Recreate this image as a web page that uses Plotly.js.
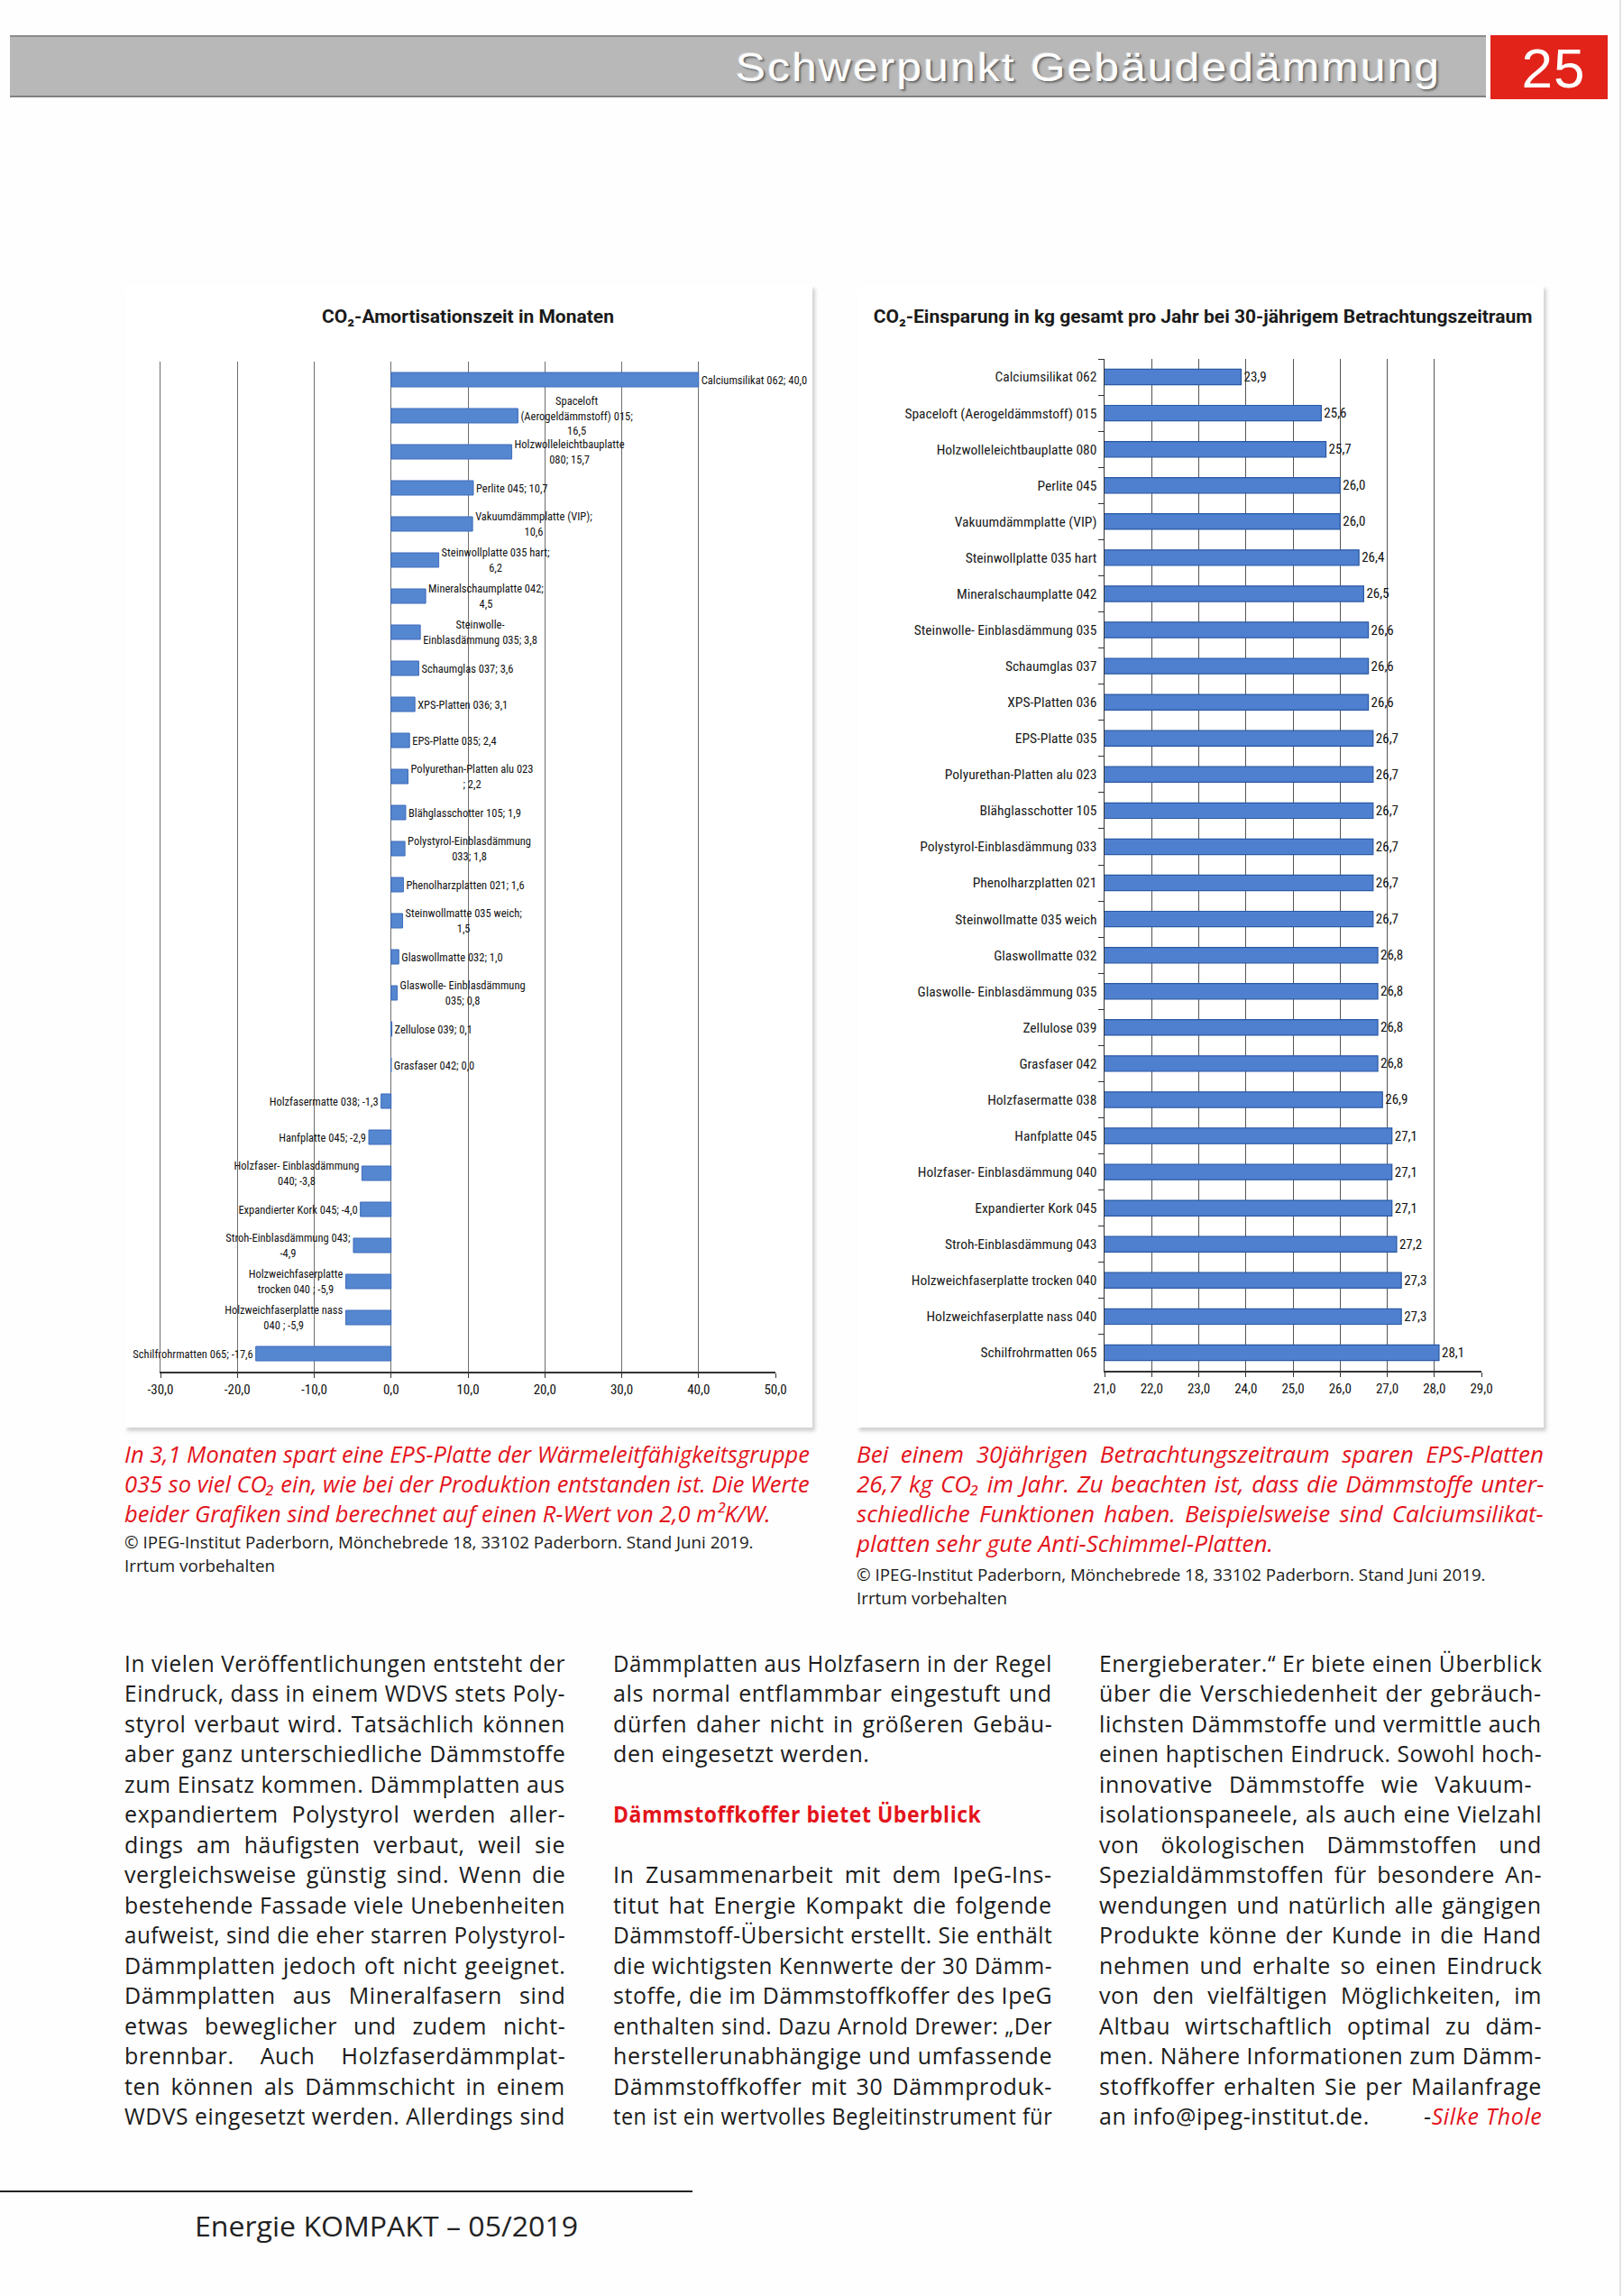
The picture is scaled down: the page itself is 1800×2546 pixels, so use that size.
<!DOCTYPE html>
<html><head><meta charset="utf-8">
<script src="https://cdn.plot.ly/plotly-3.0.1.min.js"></script>
<style>
html,body{margin:0;padding:0;background:#fff;}
#page{position:relative;width:1800px;height:2546px;overflow:hidden;background:#fefefe;}
.abs{position:absolute;}
.band{left:11px;top:39px;width:1637px;height:65px;background:#b8b8b8;border-top:2px solid #8c8c8c;border-bottom:2px solid #808080;}
.pnumbox{left:1653px;top:39px;width:130px;height:71px;background:#e2231a;}
.tl{position:absolute;white-space:nowrap;transform-origin:0 0;line-height:1;}
.panel{background:#fff;box-shadow:3px 4px 4px rgba(0,0,0,0.18);}
.edge{right:2px;top:0;width:2px;height:2546px;background:#e4e4e4;}
.fline{left:0;top:2429px;width:768px;height:2px;background:#222;}
</style></head>
<body>
<div id="page">
  <div class="abs band"></div>
  <div class="abs pnumbox"></div>
  <div class="abs edge"></div>
  <div class="abs panel" style="left:138px;top:316px;width:763px;height:1267px;"></div>
  <div class="abs panel" style="left:950px;top:316px;width:762px;height:1267px;"></div>
  <div class="abs" id="chart1" style="left:138px;top:316px;width:763px;height:1267px;"></div>
  <div class="abs" id="chart2" style="left:950px;top:316px;width:762px;height:1267px;"></div>
  <div class="abs fline"></div>
</div>
<script>
// ---------------- DATA ----------------
const materials = [
  "Calciumsilikat 062","Spaceloft (Aerogeldämmstoff) 015","Holzwolleleichtbauplatte 080","Perlite 045",
  "Vakuumdämmplatte (VIP)","Steinwollplatte 035 hart","Mineralschaumplatte 042","Steinwolle- Einblasdämmung 035",
  "Schaumglas 037","XPS-Platten 036","EPS-Platte 035","Polyurethan-Platten alu 023","Blähglasschotter 105",
  "Polystyrol-Einblasdämmung 033","Phenolharzplatten 021","Steinwollmatte 035 weich","Glaswollmatte 032",
  "Glaswolle- Einblasdämmung 035","Zellulose 039","Grasfaser 042","Holzfasermatte 038","Hanfplatte 045",
  "Holzfaser- Einblasdämmung 040","Expandierter Kork 045","Stroh-Einblasdämmung 043",
  "Holzweichfaserplatte trocken 040","Holzweichfaserplatte nass 040","Schilfrohrmatten 065"
];
// CO2-Amortisationszeit in Monaten
const amortValues = [40.0,16.5,15.7,10.7,10.6,6.2,4.5,3.8,3.6,3.1,2.4,2.2,1.9,1.8,1.6,1.5,1.0,0.8,0.1,0.0,-1.3,-2.9,-3.8,-4.0,-4.9,-5.9,-5.9,-17.6];
// wrapped data-label texts, {v} = value
const amortLabelTemplates = [
  "Calciumsilikat 062; {v}","Spaceloft<br>(Aerogeldämmstoff) 015;<br>{v}","Holzwolleleichtbauplatte<br>080; {v}",
  "Perlite 045; {v}","Vakuumdämmplatte (VIP);<br>{v}","Steinwollplatte 035 hart;<br>{v}","Mineralschaumplatte 042;<br>{v}",
  "Steinwolle-<br>Einblasdämmung 035; {v}","Schaumglas 037; {v}","XPS-Platten 036; {v}","EPS-Platte 035; {v}",
  "Polyurethan-Platten alu 023<br>; {v}","Blähglasschotter 105; {v}","Polystyrol-Einblasdämmung<br>033; {v}",
  "Phenolharzplatten 021; {v}","Steinwollmatte 035 weich;<br>{v}","Glaswollmatte 032; {v}",
  "Glaswolle- Einblasdämmung<br>035; {v}","Zellulose 039; {v}","Grasfaser 042; {v}","Holzfasermatte 038; {v}",
  "Hanfplatte 045; {v}","Holzfaser- Einblasdämmung<br>040; {v}","Expandierter Kork 045; {v}",
  "Stroh-Einblasdämmung 043;<br>{v}","Holzweichfaserplatte<br>trocken 040 ; {v}","Holzweichfaserplatte nass<br>040 ; {v}",
  "Schilfrohrmatten 065; {v}"
];
// CO2-Einsparung in kg pro Jahr
const savingValues = [23.9,25.6,25.7,26.0,26.0,26.4,26.5,26.6,26.6,26.6,26.7,26.7,26.7,26.7,26.7,26.7,26.8,26.8,26.8,26.8,26.9,27.1,27.1,27.1,27.2,27.3,27.3,28.1];
const amortTicks = [-30,-20,-10,0,10,20,30,40,50];
const savingTicks = [21,22,23,24,25,26,27,28,29];

const title1 = "CO₂-Amortisationszeit in Monaten";
const title2 = "CO₂-Einsparung in kg gesamt pro Jahr bei 30-jährigem Betrachtungszeitraum";

// ---------------- CHARTS ----------------
const NARROW = '"Liberation Sans Narrow", "Roboto Condensed", "DejaVu Sans Condensed", Roboto, sans-serif';
const fmt = v => v.toFixed(1).replace('.', ',');
const tickText = arr => arr.map(fmt);

const titleFont = {family:'Roboto, sans-serif', size:21, color:'#1a1a1a', weight:'bold'};

Plotly.newPlot('chart1', [{
  type:'bar', orientation:'h', x:amortValues, y:materials,
  text: amortValues.map((v,i)=>amortLabelTemplates[i].replace('{v}', fmt(v))),
  textposition:'outside', textangle:0, constraintext:'none', cliponaxis:false,
  textfont:{family:NARROW, size:12.5, color:'#111'},
  marker:{color:'#5586d0', line:{color:'#3e6dbb', width:1}},
  hoverinfo:'skip'
}], {
  width:763, height:1267, margin:{l:40, r:41, t:85, b:62},
  paper_bgcolor:'rgba(0,0,0,0)', plot_bgcolor:'#fff', showlegend:false, bargap:0.6,
  separators:',.',
  title:{text:title1, font:titleFont, x:0.5, xref:'paper', y:1-35/1267, yref:'container', yanchor:'middle'},
  xaxis:{range:[-30,50], tickvals:amortTicks, ticktext:tickText(amortTicks), showgrid:true, gridcolor:'#6e6e6e', gridwidth:1,
         zeroline:false, showline:true, linecolor:'#333', linewidth:2, ticks:'outside', ticklen:5, tickcolor:'#333',
         tickfont:{family:NARROW, size:15, color:'#111'}, fixedrange:true},
  yaxis:{type:'category', autorange:'reversed', showticklabels:false, showgrid:false, zeroline:false,
         showline:true, linecolor:'#6e6e6e', linewidth:1, ticks:'', fixedrange:true}
}, {staticPlot:true});

Plotly.newPlot('chart2', [{
  type:'bar', orientation:'h', x:savingValues, y:materials,
  text: savingValues.map(fmt), textposition:'outside', textangle:0, constraintext:'none',
  textfont:{family:NARROW, size:15, color:'#111'},
  marker:{color:'#4f80d0', line:{color:'#2a58a3', width:1.2}},
  hoverinfo:'skip'
}], {
  width:762, height:1267, margin:{l:275, r:69, t:82, b:63},
  paper_bgcolor:'rgba(0,0,0,0)', plot_bgcolor:'#fff', showlegend:false, bargap:0.57,
  separators:',.',
  title:{text:title2, font:titleFont, x:0.504, xref:'container', y:1-35/1267, yref:'container', yanchor:'middle'},
  xaxis:{range:[21,29], tickvals:savingTicks, ticktext:tickText(savingTicks), showgrid:true, gridcolor:'#555', gridwidth:1,
         zeroline:false, showline:true, linecolor:'#333', linewidth:2, ticks:'outside', ticklen:5, tickcolor:'#333',
         tickfont:{family:NARROW, size:15, color:'#111'}, fixedrange:true},
  yaxis:{type:'category', autorange:'reversed', showgrid:false, zeroline:false, showline:true, linecolor:'#333', linewidth:1.5,
         ticks:'outside', tickson:'boundaries', ticklen:6, tickcolor:'#333', ticklabelstandoff:4,
         tickfont:{family:NARROW, size:15.5, color:'#1a1a1a'}, fixedrange:true}
}, {staticPlot:true});

// ---------------- PAGE TEXT ----------------
const page = document.getElementById('page');
function addLine(html, o){
  const d = document.createElement('div');
  d.className = 'tl';
  d.style.left = o.x + 'px';
  d.style.top = (o.cy - o.k*o.size) + 'px';
  d.style.fontFamily = o.family; d.style.fontSize = o.size + 'px';
  d.style.fontStyle = o.italic ? 'italic' : 'normal';
  d.style.fontWeight = o.weight || 'normal';
  d.style.color = o.color;
  if (o.ls) d.style.letterSpacing = o.ls + 'px';
  if (o.shadow) d.style.textShadow = o.shadow;
  d.innerHTML = html;
  page.appendChild(d);
  return d;
}
function fitLine(d, o, mode, w){
  const nw = d.offsetWidth;
  let sc = o.condense || 1;
  if (mode === 'j') {
    const target = o.width / sc;
    if (nw > target) sc = o.width / nw;
    else {
      const n = (d.textContent.match(/ /g) || []).length;
      if (n) d.style.wordSpacing = ((target - nw) / n) + 'px';
    }
  } else if (mode === 'w') {
    sc = w / nw;
  } else if (nw * sc > o.width) sc = o.width / nw;
  d.style.transform = 'scaleX(' + sc + ')';
  return sc;
}
// lines: [text, mode('j' justify | 'l' left | 'w' exact width), width, style]
function block(lines, o){
  const els = lines.map((ln, i) => {
    if (!ln) return null;
    const oo = Object.assign({}, o, ln[3] || {});
    oo.cy = o.y0 + i * o.dy;
    return [addLine(ln[0], oo), oo, ln];
  });
  if (o.autoCondense) {           // take condense from the line with a known width
    const ref = els.find(e => e && e[2][1] === 'w');
    if (ref) o.condense = ref[2][2] / ref[0].offsetWidth;
  }
  els.forEach(e => { if (e) { e[1].condense = o.condense; fitLine(e[0], e[1], e[2][1], e[2][2]); } });
}
const BODY = '"Open Sans", sans-serif';
const RED = '#e3141b';

// header
(function(){
  const o = {x:0, cy:75, k:0.49, size:44, family:'"Liberation Sans", Arial, sans-serif', color:'#fff', ls:2,
             shadow:'1px 1px 0 #6a6a6a, 2px 2px 2px #777, -1px -1px 0 #d8d8d8'};
  const d = addLine('Schwerpunkt Gebäudedämmung', o);
  const sc = 782 / d.offsetWidth; d.style.left = (1598 - 782) + 'px'; d.style.transform = 'scaleX(' + sc + ')';
  const o2 = {x:0, cy:75, k:0.49, size:62, family:'"Liberation Sans", Arial, sans-serif', color:'#fff', ls:1};
  const d2 = addLine('25', o2); d2.style.left = (1723 - d2.offsetWidth/2) + 'px';
})();

// captions
const capLeft = [
  ["In 3,1 Monaten spart eine EPS-Platte der Wärmeleitfähigkeitsgruppe", 'j'],
  ["035 so viel CO₂ ein, wie bei der Produktion entstanden ist. Die Werte", 'j'],
  ["beider Grafiken sind berechnet auf einen R-Wert von 2,0 m²K/W.", 'w', 717]
];
const capRight = [
  ["Bei einem 30jährigen Betrachtungszeitraum sparen EPS-Platten", 'j'],
  ["26,7 kg CO₂ im Jahr. Zu beachten ist, dass die Dämmstoffe unter-", 'j'],
  ["schiedliche Funktionen haben. Beispielsweise sind Calciumsilikat-", 'j'],
  ["platten sehr gute Anti-Schimmel-Platten.", 'w', 462]
];
const capStyle = {family:BODY, size:25, italic:true, color:RED, k:0.62, autoCondense:true, dy:33.3};
block(capLeft, Object.assign({x:138, width:760, y0:1615}, capStyle));
block(capRight, Object.assign({x:950, width:762, y0:1615}, capStyle));
const srcStyle = {family:BODY, size:18, color:'#1a1a1a', k:0.62, dy:26};
const srcLines = [["© IPEG-Institut Paderborn, Mönchebrede 18, 33102 Paderborn. Stand Juni 2019.", 'w', 698],
                  ["Irrtum vorbehalten", 'w', 167]];
block(srcLines, Object.assign({x:138, width:760, y0:1712}, srcStyle));
block(srcLines, Object.assign({x:950, width:762, y0:1748}, srcStyle));

// body text
const col1 = [
  ["In vielen Veröffentlichungen entsteht der",'j'],
  ["Eindruck, dass in einem WDVS stets Poly-",'j'],
  ["styrol verbaut wird. Tatsächlich können",'j'],
  ["aber ganz unterschiedliche Dämmstoffe",'j'],
  ["zum Einsatz kommen. Dämmplatten aus",'j'],
  ["expandiertem Polystyrol werden aller-",'j'],
  ["dings am häufigsten verbaut, weil sie",'j'],
  ["vergleichsweise günstig sind. Wenn die",'j'],
  ["bestehende Fassade viele Unebenheiten",'j'],
  ["aufweist, sind die eher starren Polystyrol-",'j'],
  ["Dämmplatten jedoch oft nicht geeignet.",'j'],
  ["Dämmplatten aus Mineralfasern sind",'j'],
  ["etwas beweglicher und zudem nicht-",'j'],
  ["brennbar. Auch Holzfaserdämmplat-",'j'],
  ["ten können als Dämmschicht in einem",'j'],
  ["WDVS eingesetzt werden. Allerdings sind",'j']
];
const col2 = [
  ["Dämmplatten aus Holzfasern in der Regel",'j'],
  ["als normal entflammbar eingestuft und",'j'],
  ["dürfen daher nicht in größeren Gebäu-",'j'],
  ["den eingesetzt werden.",'l'],
  null,
  ["Dämmstoffkoffer bietet Überblick",'w',408,{weight:'bold', color:RED}],
  null,
  ["In Zusammenarbeit mit dem IpeG-Ins-",'j'],
  ["titut hat Energie Kompakt die folgende",'j'],
  ["Dämmstoff-Übersicht erstellt. Sie enthält",'j'],
  ["die wichtigsten Kennwerte der 30 Dämm-",'j'],
  ["stoffe, die im Dämmstoffkoffer des IpeG",'j'],
  ["enthalten sind. Dazu Arnold Drewer: „Der",'j'],
  ["herstellerunabhängige und umfassende",'j'],
  ["Dämmstoffkoffer mit 30 Dämmproduk-",'j'],
  ["ten ist ein wertvolles Begleitinstrument für",'j']
];
const col3 = [
  ["Energieberater.“ Er biete einen Überblick",'j'],
  ["über die Verschiedenheit der gebräuch-",'j'],
  ["lichsten Dämmstoffe und vermittle auch",'j'],
  ["einen haptischen Eindruck. Sowohl hoch-",'j'],
  ["innovative Dämmstoffe wie  Vakuum-",'j'],
  ["isolationspaneele, als auch eine Vielzahl",'j'],
  ["von ökologischen Dämmstoffen und",'j'],
  ["Spezialdämmstoffen für besondere An-",'j'],
  ["wendungen und natürlich alle gängigen",'j'],
  ["Produkte könne der Kunde in die Hand",'j'],
  ["nehmen und erhalte so einen Eindruck",'j'],
  ["von den vielfältigen Möglichkeiten, im",'j'],
  ["Altbau wirtschaftlich optimal zu däm-",'j'],
  ["men. Nähere Informationen zum Dämm-",'j'],
  ["stoffkoffer erhalten Sie per Mailanfrage",'j'],
  ["an info@ipeg-institut.de.", 'l']
];
const bodyStyle = {family:BODY, size:25, color:'#1b1b1b', k:0.62, condense:1, ls:0.6, dy:33.5, y0:1847};
block(col1, Object.assign({x:138, width:489}, bodyStyle));
block(col2, Object.assign({x:680, width:487}, bodyStyle));
block(col3, Object.assign({x:1219, width:491}, bodyStyle));
// signature, right aligned in column 3
(function(){
  const o = Object.assign({}, bodyStyle, {x:0, cy:1847 + 15*33.5});
  const d = addLine('-<i style="color:' + RED + '">Silke Thole</i>', o);
  d.style.left = (1219 + 491 - d.offsetWidth) + 'px';
})();

// footer
(function(){
  const o = {x:216, cy:2469, k:0.53, size:31, family:BODY, color:'#222'};
  const d = addLine('Energie KOMPAKT – 05/2019', o);
  fitLine(d, o, 'w', 425);
})();
</script>
</body></html>
